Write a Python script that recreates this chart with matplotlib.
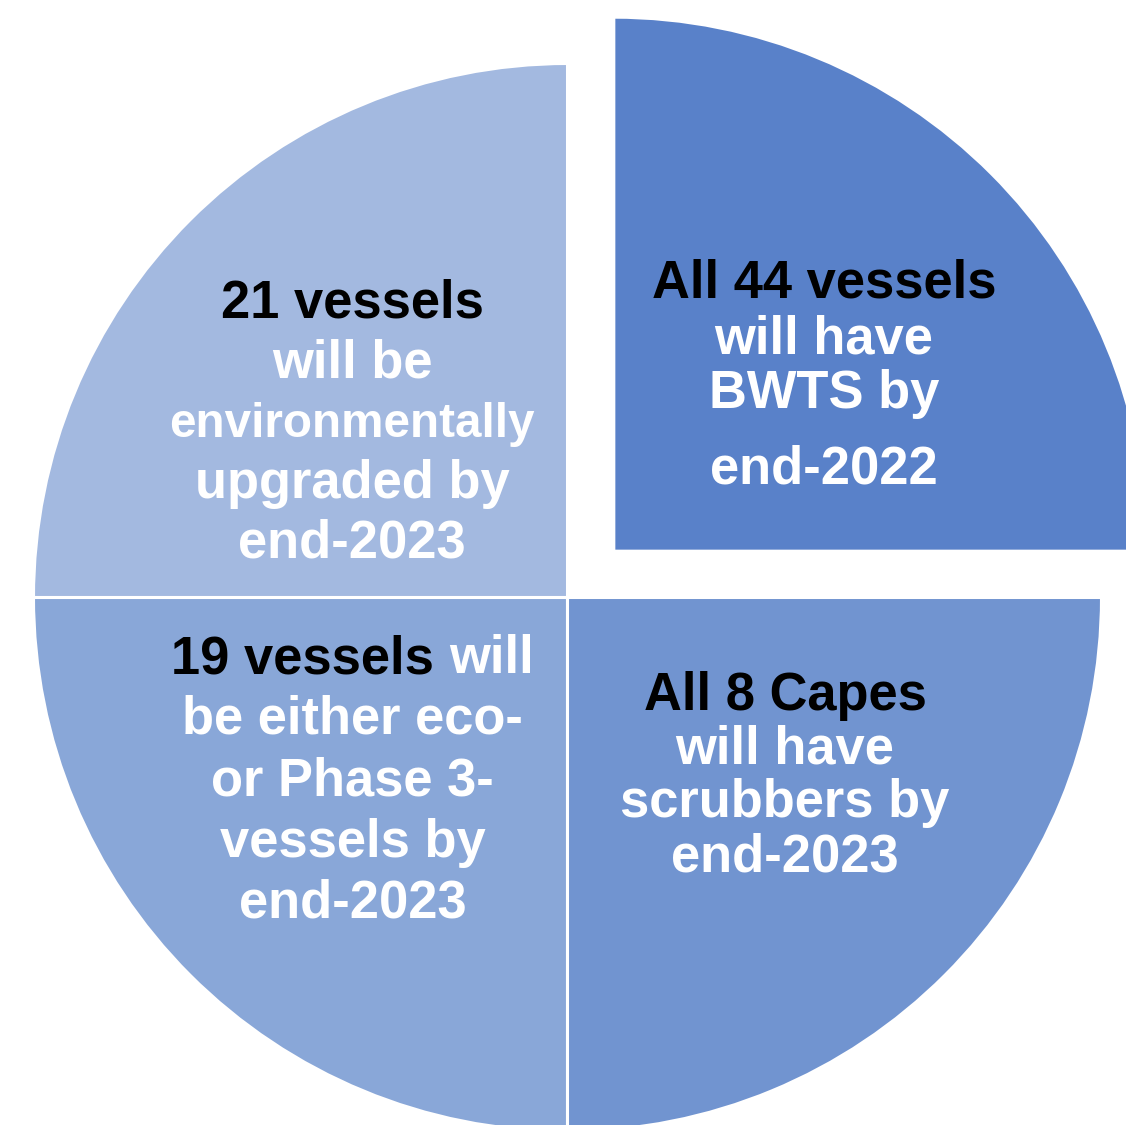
import matplotlib.pyplot as plt

W, H = 1126, 1125

# four equal quarters, counter-clockwise starting with the top-right one
shares = [1, 1, 1, 1]
colors = ['#5981C9', '#A3B9E0', '#89A7D8', '#7194D0']

# each label line is (black part, white part)
label_topright = [('All 44 vessels', ''), ('', 'will have'), ('', 'BWTS by'), ('', 'end-2022')]
label_topleft = [('21 vessels', ''), ('', 'will be'), ('', 'environmentally'),
                 ('', 'upgraded by'), ('', 'end-2023')]
label_bottomleft = [('19 vessels', ' will'), ('', 'be either eco-'), ('', 'or Phase 3-'),
                    ('', 'vessels by'), ('', 'end-2023')]
label_bottomright = [('All 8 Capes', ''), ('', 'will have'), ('', 'scrubbers by'), ('', 'end-2023')]

# block layout in pixels from the top-left corner: centre x, line baselines
blocks = [
    (label_topright, 824, [298, 353, 408, 483]),
    (label_topleft, 352, [317, 378, 437, 498, 557]),
    (label_bottomleft, 352.5, [673, 733, 795, 857, 917]),
    (label_bottomright, 785, [710, 763, 817, 872]),
]

FS = 37.8
font = dict(family='Liberation Sans', weight='bold')

fig = plt.figure(figsize=(W / 100, H / 100), dpi=100)
ax = fig.add_axes([0, 0, 1, 1])

# pie offsets explode in data units, here pixels
ax.pie(shares, explode=[65.5, 0, 0, 0], colors=colors, startangle=0, counterclock=True,
       center=(567.5, H - 597.5), radius=534, frame=True,
       wedgeprops=dict(edgecolor='white', linewidth=2.2))
ax.set_xlim(0, W)
ax.set_ylim(0, H)
ax.set_aspect('auto')
ax.axis('off')

renderer = fig.canvas.get_renderer()


def draw_line(x, y, black, white, size):
    if black and white:
        # measure the whole line, then put each coloured part at its end
        probe = ax.text(x, y, black + white, ha='center', va='baseline',
                        fontsize=size, color='none', **font)
        bb = probe.get_window_extent(renderer=renderer)
        probe.remove()
        (x0, _), (x1, _) = ax.transData.inverted().transform([[bb.x0, 0], [bb.x1, 0]])
        ax.text(x0, y, black, ha='left', va='baseline', fontsize=size, color='black', **font)
        ax.text(x1, y, white.strip(), ha='right', va='baseline', fontsize=size, color='white', **font)
    else:
        ax.text(x, y, black or white, ha='center', va='baseline', fontsize=size,
                color='black' if black else 'white', **font)


for lines, cx, baselines in blocks:
    for (black, white), base in zip(lines, baselines):
        size = 34.3 if white == 'environmentally' else FS
        draw_line(cx, H - base, black, white, size)

fig.savefig('out.png', dpi=100)
